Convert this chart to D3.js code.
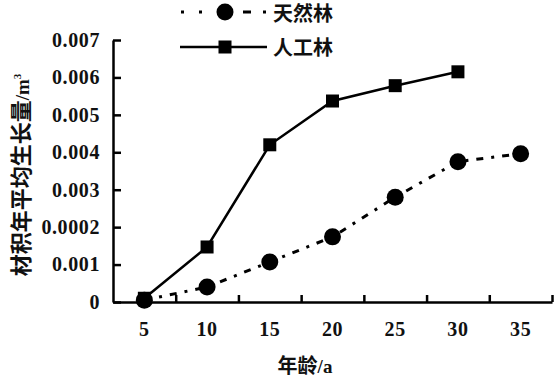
<!DOCTYPE html>
<html><head><meta charset="utf-8">
<script src="https://cdn.jsdelivr.net/npm/d3@7"></script>
<style>body{margin:0;background:#fff}</style>
</head><body>
<svg id="c" width="560" height="380"></svg>
<script>
const ages = ["5","10","15","20","25","30","35"];
const natural = [0.00005, 0.0004, 0.00107, 0.00174, 0.0028, 0.00375, 0.00396];
const planted = [0.0001, 0.00147, 0.0042, 0.00537, 0.00578, 0.00615];
const yTickValues = [0, 0.001, 0.002, 0.003, 0.004, 0.005, 0.006, 0.007];
const yTickLabels = ["0", "0.001", "0.0002", "0.003", "0.004", "0.005", "0.006", "0.007"];
const seriesNames = ["天然林", "人工林"];

const svg = d3.select("#c");
const L = 113, R = 552, T = 40, B = 302;
const serif = "'Liberation Serif','Times New Roman',serif";
const cjk = "'Noto Sans CJK SC',sans-serif";

const x = d3.scaleBand().domain(ages).range([L, R]).padding(0);
const xEdge = d3.scaleLinear().domain([0, ages.length]).range([L, R]);
const y = d3.scaleLinear().domain([0, 0.007]).range([B, T]);
const cx = a => x(a) + x.bandwidth() / 2;

// Y axis
const yAxis = svg.append("g").attr("transform", `translate(${L},0)`)
  .call(d3.axisLeft(y).tickValues(yTickValues)
    .tickFormat((d, i) => yTickLabels[i]).tickSizeInner(-8).tickSizeOuter(0).tickPadding(13));
yAxis.select(".domain").attr("stroke", "#000").attr("stroke-width", 2.5);
yAxis.selectAll(".tick line").attr("stroke", "#000").attr("stroke-width", 2.5);
yAxis.selectAll("text").attr("font-family", serif).attr("font-weight", "bold")
  .attr("font-size", 20).attr("letter-spacing", 0.6).attr("fill", "#111");

// X axis labels
const xAxis = svg.append("g").attr("transform", `translate(0,${B})`)
  .call(d3.axisBottom(x).tickSize(0).tickPadding(20));
xAxis.select(".domain").attr("stroke", "#000").attr("stroke-width", 2.5);
xAxis.selectAll("text").attr("font-family", serif).attr("font-weight", "bold")
  .attr("font-size", 20).attr("letter-spacing", 0.6).attr("fill", "#111");
// X boundary ticks (inward)
const xTicks = svg.append("g").attr("transform", `translate(0,${B})`)
  .call(d3.axisBottom(xEdge).tickValues(d3.range(1, ages.length + 1)).tickFormat("")
    .tickSizeInner(-7).tickSizeOuter(0));
xTicks.select(".domain").remove();
xTicks.selectAll(".tick line").attr("stroke", "#000").attr("stroke-width", 2.5);

// Lines
const line = d3.line().x((d, i) => cx(ages[i])).y(d => y(d));
svg.append("path").datum(natural).attr("d", line).attr("fill", "none")
  .attr("stroke", "#000").attr("stroke-width", 3).attr("stroke-dasharray", "7,8,3,8");
svg.append("path").datum(planted).attr("d", line).attr("fill", "none")
  .attr("stroke", "#000").attr("stroke-width", 2.5);

// Markers
svg.append("g").selectAll("rect").data(planted).join("rect")
  .attr("x", (d, i) => cx(ages[i]) - 6.5).attr("y", d => y(d) - 6.5)
  .attr("width", 13).attr("height", 13).attr("fill", "#000");
svg.append("g").selectAll("circle").data(natural).join("circle")
  .attr("cx", (d, i) => cx(ages[i])).attr("cy", d => y(d)).attr("r", 8.5).attr("fill", "#000");

// Legend
const lg = svg.append("g");
lg.append("line").attr("x1", 181).attr("x2", 266).attr("y1", 12).attr("y2", 12)
  .attr("stroke", "#000").attr("stroke-width", 3).attr("stroke-dasharray", "3,15,3,41,8,12,3,100");
lg.append("circle").attr("cx", 225).attr("cy", 12).attr("r", 8.5).attr("fill", "#000");
lg.append("text").attr("x", 273).attr("y", 21).text(seriesNames[0])
  .attr("font-family", cjk).attr("font-weight", "bold").attr("font-size", 20).attr("fill", "#111");
lg.append("line").attr("x1", 180).attr("x2", 267).attr("y1", 47).attr("y2", 47)
  .attr("stroke", "#000").attr("stroke-width", 2.5);
lg.append("rect").attr("x", 218.5).attr("y", 40.5).attr("width", 13).attr("height", 13).attr("fill", "#000");
lg.append("text").attr("x", 273).attr("y", 55).text(seriesNames[1])
  .attr("font-family", cjk).attr("font-weight", "bold").attr("font-size", 20).attr("fill", "#111");

// Axis titles
const yt = svg.append("text").attr("transform", "translate(29,175) rotate(-90)")
  .attr("text-anchor", "middle").attr("fill", "#111");
yt.append("tspan").attr("font-family", cjk).attr("font-weight", "bold").attr("font-size", 22).text("材积年平均生长量");
yt.append("tspan").attr("font-family", serif).attr("font-weight", "bold").attr("font-size", 19).text("/m");
yt.append("tspan").attr("font-family", serif).attr("font-weight", "bold").attr("font-size", 11).attr("dy", -8).text("3");

const xt = svg.append("text").attr("x", 305).attr("y", 373).attr("text-anchor", "middle").attr("fill", "#111");
xt.append("tspan").attr("font-family", cjk).attr("font-weight", "bold").attr("font-size", 20).text("年龄");
xt.append("tspan").attr("font-family", serif).attr("font-weight", "bold").attr("font-size", 19).text("/a");
</script>
</body></html>
